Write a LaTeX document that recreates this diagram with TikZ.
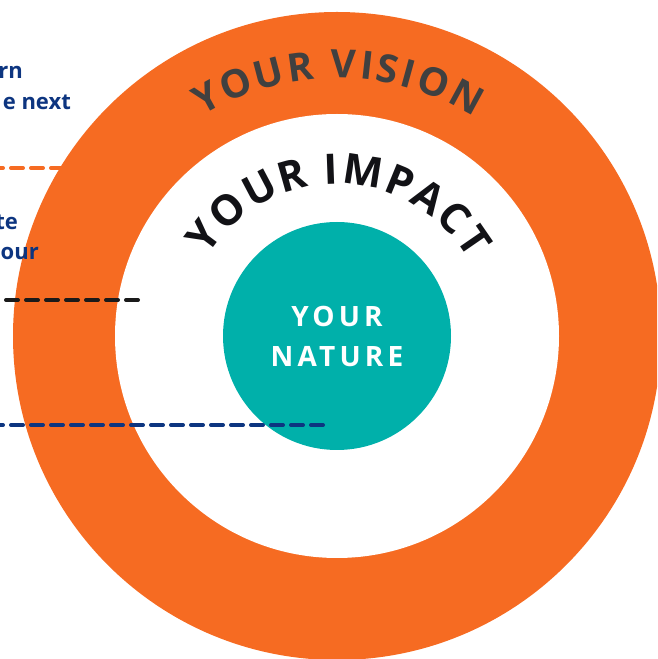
\documentclass[tikz,border=0pt]{standalone}
\usepackage{fontspec}
\setmainfont{Open Sans}
\newfontfamily\natfont[LetterSpace=15]{Open Sans}
\usetikzlibrary{decorations.text}

\definecolor{ringorange}{HTML}{F66B22}
\definecolor{coreteal}{HTML}{00B0AA}
\definecolor{deepblue}{HTML}{0D3580}
\definecolor{visiongrey}{HTML}{404040}
\definecolor{impactblack}{HTML}{121216}
\definecolor{dashblack}{HTML}{1A1A1A}

\tikzset{
  disc/.style={circle, inner sep=0pt, outer sep=0pt},
  guide/.style={line width=4pt, line cap=round, dash pattern=on 12pt off 8pt},
  sidetext/.style={anchor=base east, inner sep=0pt, text=deepblue,
    font=\fontsize{22}{30}\selectfont\bfseries},
}

\begin{document}
\begin{tikzpicture}[x=1pt, y=1pt]
  \useasboundingbox (0,0) rectangle (657,659);
  \clip (0,0) rectangle (657,659);

  \coordinate (c) at (337,323);

  % three concentric discs
  \node[disc, fill=ringorange, minimum size=648pt] (vision) at (c) {};
  \node[disc, fill=white, minimum size=444pt] (impact) at (c) {};
  \node[disc, fill=coreteal, minimum size=228pt, text=white, align=center,
        font=\natfont\fontsize{28}{40}\selectfont\bfseries] (nature) at (c)
        {YOUR\\NATURE};

  % curved titles
  \path[decorate, decoration={text along path, text align={fit to path},
        text color=visiongrey,
        text={|\fontsize{39}{39}\selectfont\bfseries|YOUR VISION}}]
    (c) ++(121.5:258) arc[start angle=121.5, end angle=58, radius=258];
  \path[decorate, decoration={text along path, text align={fit to path},
        text color=impactblack,
        text={|\fontsize{42}{42}\selectfont\bfseries|YOUR IMPACT}}]
    (c) ++(148:152) arc[start angle=148, end angle=30, radius=152];

  % side captions
  \node[sidetext] (t1) at (23,580) {rn};
  \node[sidetext] (t2) at (71,549) {e next};
  \node[sidetext] (t3) at (18,429) {te};
  \node[sidetext] (t4) at (39,399) {our};

  % dashed guide lines
  \coordinate (a1) at (-9,491);  \coordinate (a2) at (63,491);
  \coordinate (b1) at (-14,359); \coordinate (b2) at (138,359);
  \coordinate (d1) at (-9,234);  \coordinate (d2) at (323,234);
  \draw[guide, ringorange] (a1) -- (a2);
  \draw[guide, dashblack] (b1) -- (b2);
  \draw[guide, deepblue] (d1) -- (d2);
\end{tikzpicture}
\end{document}
